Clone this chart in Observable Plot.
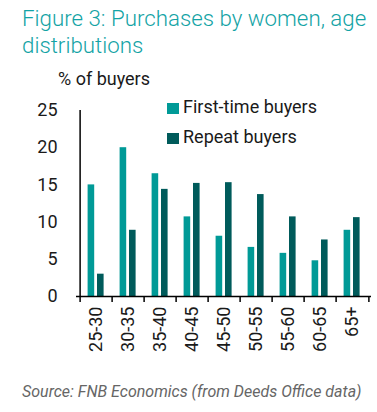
<!DOCTYPE html>
<html><head><meta charset="utf-8">
<script src="https://cdn.jsdelivr.net/npm/d3@7"></script>
<script src="https://cdn.jsdelivr.net/npm/@observablehq/plot@0.6"></script>
<style>
body{margin:0;background:#fff;font-family:Roboto,"Liberation Sans",sans-serif;}
#wrap{position:relative;width:377px;height:412px;overflow:hidden;background:#fff;}
#chart{position:absolute;left:0;top:0;}
#title{position:absolute;left:22px;top:5px;font-size:22.3px;line-height:27px;font-weight:300;color:#13A3A5;white-space:nowrap;}
#ylabel{position:absolute;left:58px;top:70px;font-size:18px;line-height:18px;color:#1a1a1a;white-space:nowrap;}
#legend{position:absolute;left:167px;top:97px;}
.item{position:relative;height:30px;font-size:18px;line-height:19px;color:#1a1a1a;white-space:nowrap;}
.sw{position:absolute;left:0;top:6px;width:12px;height:11px;}
.lab{position:absolute;left:16px;top:0;}
#source{position:absolute;left:22px;top:384px;font-size:16px;line-height:15px;font-style:italic;color:#666;white-space:nowrap;}
</style></head><body>
<div id="wrap">
<div id="chart"></div>
<div id="title">Figure 3: Purchases by women, age<br>distributions</div>
<div id="ylabel">% of buyers</div>
<div id="legend"></div>
<div id="source">Source: FNB Economics (from Deeds Office data)</div>
</div>
<script>
const ages = ["25-30","30-35","35-40","40-45","45-50","50-55","55-60","60-65","65+"];
const firstTime = [15, 20, 16.5, 10.7, 8.1, 6.6, 5.8, 4.8, 8.9];
const repeatBuyers = [3, 8.9, 14.4, 15.2, 15.3, 13.7, 10.7, 7.6, 10.6];
const seriesNames = ["First-time buyers", "Repeat buyers"];
const seriesColors = ["#009A97", "#005B5B"];
const yTicks = [0, 5, 10, 15, 20, 25];

const W = 377, H = 412, mL = 76, mR = 6, mT = 110, mB = 116;
const half = (W - mL - mR) / ages.length / 2;
const axisStyle = {stroke: "#000", strokeWidth: 1.5};

const chart = Plot.plot({
  width: W, height: H,
  marginLeft: mL, marginRight: mR, marginTop: mT, marginBottom: mB,
  style: {fontSize: "18px", fontFamily: "Roboto, sans-serif", color: "#1a1a1a", background: "transparent"},
  x: {domain: ages, padding: 0, tickSize: 0, tickRotate: -90, tickPadding: 10, label: null},
  y: {domain: [0, 25], ticks: yTicks, tickSize: 0, tickPadding: 19, label: null},
  marks: [
    Plot.barY(ages, {x: d => d, y: (d, i) => firstTime[i], fill: seriesColors[0], insetLeft: 7.6, insetRight: 17.8}),
    Plot.barY(ages, {x: d => d, y: (d, i) => repeatBuyers[i], fill: seriesColors[1], insetLeft: 17, insetRight: 8.4}),
    Plot.ruleY([0], axisStyle),
    Plot.ruleX([ages[0]], {x: d => d, dx: -half, y1: 0, y2: 25, ...axisStyle}),
    Plot.ruleX(ages, {x: d => d, dx: -half, y1: 0, y2: 0, insetBottom: -6, ...axisStyle}),
    Plot.ruleX([ages[ages.length - 1]], {x: d => d, dx: half, y1: 0, y2: 0, insetBottom: -6, ...axisStyle})
  ]
});
document.getElementById("chart").appendChild(chart);

const leg = document.getElementById("legend");
seriesNames.forEach((n, i) => {
  const it = document.createElement("div");
  it.className = "item";
  it.innerHTML = `<span class="sw" style="background:${seriesColors[i]}"></span><span class="lab">${n}</span>`;
  leg.appendChild(it);
});
</script>
</body></html>
